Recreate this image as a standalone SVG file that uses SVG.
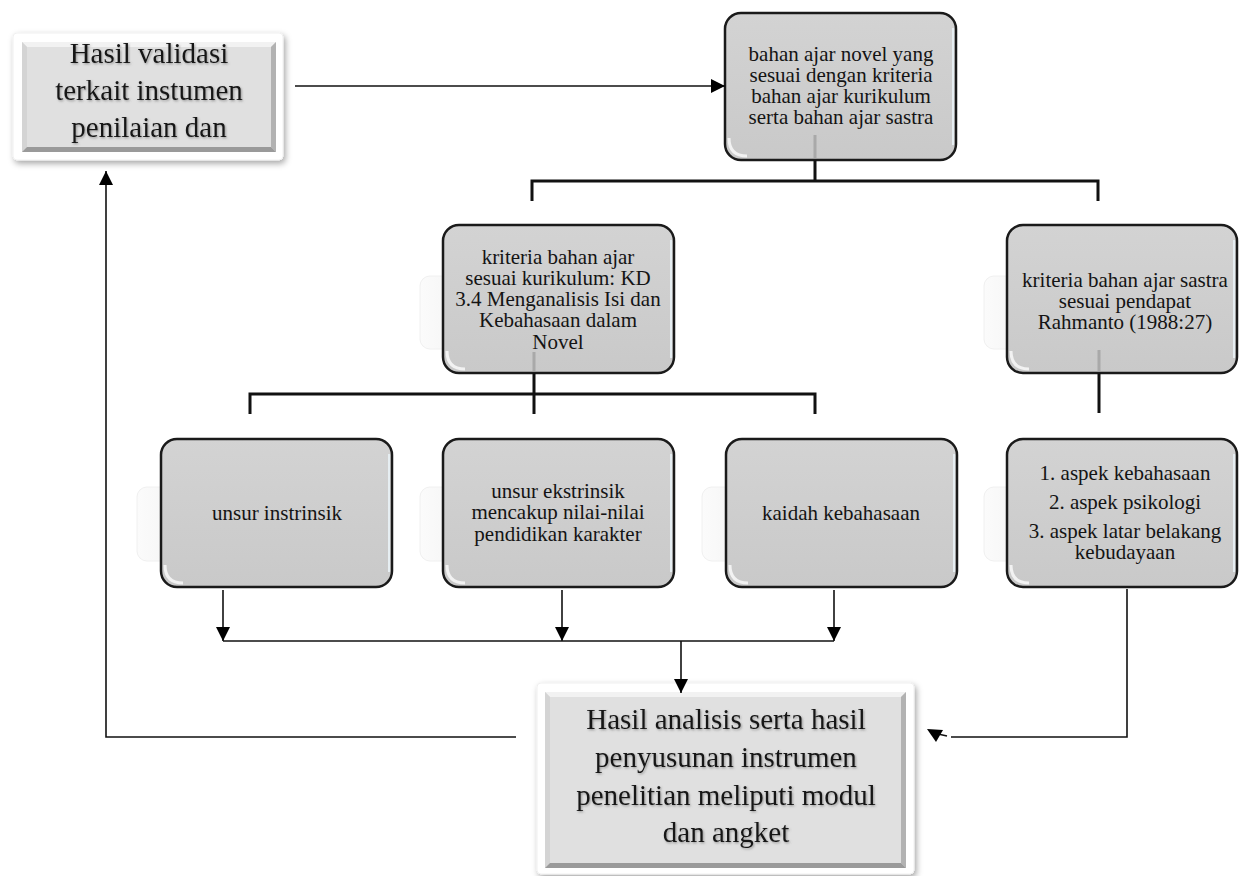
<svg xmlns="http://www.w3.org/2000/svg" width="1239" height="876" viewBox="0 0 1239 876">
<style>
  .t { font-family: "Liberation Serif", "Times New Roman", serif; fill: #141414; text-anchor: middle; }
  .sm { font-size: 21px; }
  .lg { font-size: 29px; }
  .box { fill: url(#boxFill); stroke: #1a1a1a; stroke-width: 2.5; }
  .ghost { fill: url(#ghostFill); stroke: #f0f0f0; stroke-width: 1; }
  .glint { fill: none; stroke: #ffffff; stroke-width: 3; opacity: 0.75; }
  .edge { fill: none; stroke: #e6eef2; stroke-width: 2; }
  .inner { stroke: #a9a9a9; stroke-width: 3; }
  .frame { fill: #ffffff; stroke: #f0f0f0; stroke-width: 1; filter: url(#frameShadow); }
  .bev { fill: #e0e0e0; }
  .bt { fill: #f2f2f2; } .bl { fill: #d4d4d4; } .br { fill: #b2b2b2; } .bb { fill: #9a9a9a; }
  .shadowed { filter: url(#textShadow); }
  .br3 { fill: none; stroke: #111; stroke-width: 3; }
  .ln { fill: none; stroke: #111; stroke-width: 1.6; }
</style>
<defs>
  <linearGradient id="boxFill" x1="0" y1="0" x2="0" y2="1">
    <stop offset="0" stop-color="#d3d3d3"/>
    <stop offset="1" stop-color="#c9c9c9"/>
  </linearGradient>
  <linearGradient id="ghostFill" x1="0" y1="0" x2="1" y2="0">
    <stop offset="0" stop-color="#fbfbfb"/>
    <stop offset="1" stop-color="#f1f1f1"/>
  </linearGradient>
  <filter id="frameShadow" x="-10%" y="-10%" width="125%" height="130%">
    <feDropShadow dx="2" dy="3" stdDeviation="3" flood-color="#000" flood-opacity="0.35"/>
  </filter>
  <filter id="textShadow" x="-5%" y="-5%" width="110%" height="120%">
    <feDropShadow dx="1" dy="1.2" stdDeviation="0.8" flood-color="#666" flood-opacity="0.6"/>
  </filter>
  <marker id="arr" markerUnits="userSpaceOnUse" markerWidth="14" markerHeight="14" viewBox="0 0 14 14" refX="14" refY="7" orient="auto">
    <path d="M0,0 L14,7 L0,14 Z" fill="#000"/>
  </marker>
</defs>

<!-- top-left bevel box -->
<g id="n-validasi">
  <rect class="frame" x="13" y="33" width="270" height="127" rx="4"/>
  <rect class="bev" x="22" y="42" width="254" height="110"/>
  <polygon class="bt" points="22,42 276,42 271,47 27,47"/>
  <polygon class="bl" points="22,42 27,47 27,147 22,152"/>
  <polygon class="br" points="276,42 271,47 271,147 276,152"/>
  <polygon class="bb" points="22,152 276,152 271,147 27,147"/>
  <g class="shadowed">
    <text class="t lg" x="149" y="63">Hasil validasi</text>
    <text class="t lg" x="149" y="100">terkait instumen</text>
    <text class="t lg" x="149" y="137">penilaian dan</text>
  </g>
</g>

<!-- top box -->
<g id="n-bahan">
  <rect class="box" x="725" y="13" width="231" height="147" rx="16"/>
  <path class="glint" d="M729,138 Q729,156 747,156"/>
  <path class="edge" d="M953,28 V145"/>
  <path class="inner" d="M815,135 V158"/>
  <text class="t sm" x="841" y="61">bahan ajar novel yang</text>
  <text class="t sm" x="841" y="82">sesuai dengan kriteria</text>
  <text class="t sm" x="841" y="103">bahan ajar kurikulum</text>
  <text class="t sm" x="841" y="124">serta bahan ajar sastra</text>
</g>

<!-- kriteria kurikulum -->
<g id="n-kurikulum">
  <rect class="ghost" x="420" y="276" width="60" height="73" rx="10"/>
  <rect class="box" x="443" y="225" width="231" height="148" rx="16"/>
  <path class="glint" d="M447,351 Q447,369 465,369"/>
  <path class="edge" d="M671,240 V358"/>
  <path class="inner" d="M534,352 V371"/>
  <text class="t sm" x="558" y="264">kriteria bahan ajar</text>
  <text class="t sm" x="558" y="285">sesuai kurikulum: KD</text>
  <text class="t sm" x="558" y="306">3.4 Menganalisis Isi dan</text>
  <text class="t sm" x="558" y="327">Kebahasaan dalam</text>
  <text class="t sm" x="558" y="349">Novel</text>
</g>

<!-- kriteria sastra -->
<g id="n-sastra">
  <rect class="ghost" x="984" y="276" width="60" height="73" rx="10"/>
  <rect class="box" x="1007" y="225" width="230" height="148" rx="16"/>
  <path class="glint" d="M1011,351 Q1011,369 1029,369"/>
  <path class="edge" d="M1234,240 V358"/>
  <path class="inner" d="M1099,350 V371"/>
  <text class="t sm" x="1125" y="287">kriteria bahan ajar sastra</text>
  <text class="t sm" x="1125" y="308">sesuai pendapat</text>
  <text class="t sm" x="1125" y="329">Rahmanto (1988:27)</text>
</g>

<!-- unsur instrinsik -->
<g id="n-instrinsik">
  <rect class="ghost" x="137" y="487" width="60" height="74" rx="10"/>
  <rect class="box" x="161" y="439" width="231" height="148" rx="16"/>
  <path class="glint" d="M165,565 Q165,583 183,583"/>
  <path class="edge" d="M389,454 V572"/>
  <text class="t sm" x="277" y="520">unsur instrinsik</text>
</g>

<!-- unsur ekstrinsik -->
<g id="n-ekstrinsik">
  <rect class="ghost" x="420" y="487" width="60" height="74" rx="10"/>
  <rect class="box" x="443" y="439" width="231" height="148" rx="16"/>
  <path class="glint" d="M447,565 Q447,583 465,583"/>
  <path class="edge" d="M671,454 V572"/>
  <text class="t sm" x="558" y="498">unsur ekstrinsik</text>
  <text class="t sm" x="558" y="519">mencakup nilai-nilai</text>
  <text class="t sm" x="558" y="541">pendidikan karakter</text>
</g>

<!-- kaidah kebahasaan -->
<g id="n-kaidah">
  <rect class="ghost" x="702" y="487" width="60" height="74" rx="10"/>
  <rect class="box" x="726" y="439" width="231" height="148" rx="16"/>
  <path class="glint" d="M730,565 Q730,583 748,583"/>
  <path class="edge" d="M954,454 V572"/>
  <text class="t sm" x="841" y="520">kaidah kebahasaan</text>
</g>

<!-- aspek list -->
<g id="n-aspek">
  <rect class="ghost" x="984" y="487" width="60" height="74" rx="10"/>
  <rect class="box" x="1007" y="439" width="230" height="148" rx="16"/>
  <path class="glint" d="M1011,565 Q1011,583 1029,583"/>
  <path class="edge" d="M1234,454 V572"/>
  <text class="t sm" x="1125" y="480">1. aspek kebahasaan</text>
  <text class="t sm" x="1125" y="509">2. aspek psikologi</text>
  <text class="t sm" x="1125" y="538">3. aspek latar belakang</text>
  <text class="t sm" x="1125" y="559">kebudayaan</text>
</g>

<!-- bottom bevel box -->
<g id="n-hasil">
  <rect class="frame" x="537" y="683" width="377" height="191" rx="4"/>
  <rect class="bev" x="545" y="692" width="361" height="176"/>
  <polygon class="bt" points="545,692 906,692 901,697 550,697"/>
  <polygon class="bl" points="545,692 550,697 550,863 545,868"/>
  <polygon class="br" points="906,692 901,697 901,863 906,868"/>
  <polygon class="bb" points="545,868 906,868 901,863 550,863"/>
  <g class="shadowed">
    <text class="t lg" x="726" y="729">Hasil analisis serta hasil</text>
    <text class="t lg" x="726" y="767">penyusunan instrumen</text>
    <text class="t lg" x="726" y="805">penelitian meliputi modul</text>
    <text class="t lg" x="726" y="842">dan angket</text>
  </g>
</g>

<!-- connectors -->
<g id="connectors">
  <path class="ln" d="M295,86 H725" marker-end="url(#arr)"/>
  <path class="br3" d="M815,160 V181 M532,201 V181 H1098 V201"/>
  <path class="br3" d="M534,373 V414 M250,414 V394 H815 V414"/>
  <path class="br3" d="M1099,373 V413"/>
  <path class="ln" d="M223,590 V641" marker-end="url(#arr)"/>
  <path class="ln" d="M562,590 V641" marker-end="url(#arr)"/>
  <path class="ln" d="M834,590 V641" marker-end="url(#arr)"/>
  <path class="ln" d="M223,641 H834"/>
  <path class="ln" d="M681,641 V693" marker-end="url(#arr)"/>
  <path class="ln" d="M1127,589 V737 H951"/>
  <path class="ln" d="M947,736 L938,734"/>
  <polygon points="927,729 943,730 936,742" fill="#000"/>
  <path class="ln" d="M516,737 H106 V171" marker-end="url(#arr)"/>
</g>
</svg>
